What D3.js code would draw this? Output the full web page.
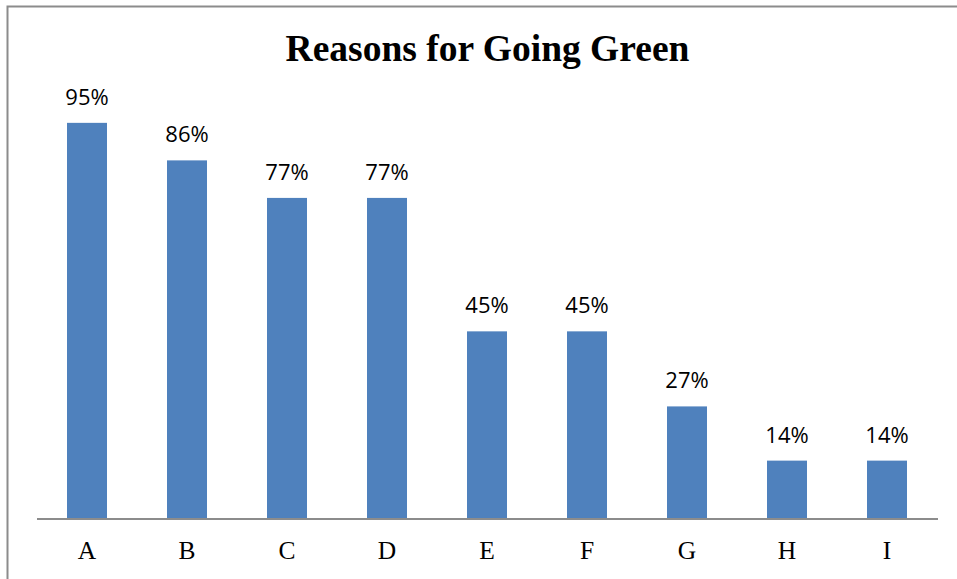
<!DOCTYPE html>
<html><head><meta charset="utf-8">
<script src="https://cdn.jsdelivr.net/npm/d3@7"></script>
<style>body{margin:0;background:#fff}</style>
</head><body>
<svg id="c" width="957" height="579"></svg>
<script>
const categories = ["A","B","C","D","E","F","G","H","I"];
const values = [0.95,0.86,0.77,0.77,0.45,0.45,0.27,0.14,0.14];
const title = "Reasons for Going Green";

const svg = d3.select("#c");
// frame
svg.append("path").attr("d","M7.5,579 V6.5 H957").attr("fill","none").attr("stroke","#8c8c8c").attr("stroke-width",2);

const x = d3.scaleBand().domain(categories).range([37,937]).paddingInner(0.6).paddingOuter(0.3);
const y = d3.scaleLinear().domain([0,1]).range([519,102]);

svg.append("text").attr("x",487.5).attr("y",61).attr("text-anchor","middle")
  .attr("font-family","Liberation Serif").attr("font-weight","bold").attr("font-size",37.5).text(title);

svg.selectAll("rect.bar").data(values).join("rect").attr("class","bar")
  .attr("x",(d,i)=>x(categories[i])).attr("width",x.bandwidth())
  .attr("y",d=>y(d)).attr("height",d=>y(0)-y(d)).attr("fill","#4f81bd");

svg.selectAll("text.lab").data(values).join("text").attr("class","lab")
  .attr("x",(d,i)=>x(categories[i])+x.bandwidth()/2).attr("y",d=>y(d)-18)
  .attr("text-anchor","middle").attr("font-family","Open Sans").attr("font-size",22)
  .text(d=>d3.format(".0%")(d));

const ax = svg.append("g").attr("transform","translate(0,519)")
  .call(d3.axisBottom(x).tickSize(0).tickPadding(22));
ax.select(".domain").attr("stroke","#8c8c8c").attr("stroke-width",2).attr("d","M37,0H938");
ax.selectAll("text").attr("font-family","Liberation Serif").attr("font-size",25.5).attr("fill","#000");
</script>
</body></html>
